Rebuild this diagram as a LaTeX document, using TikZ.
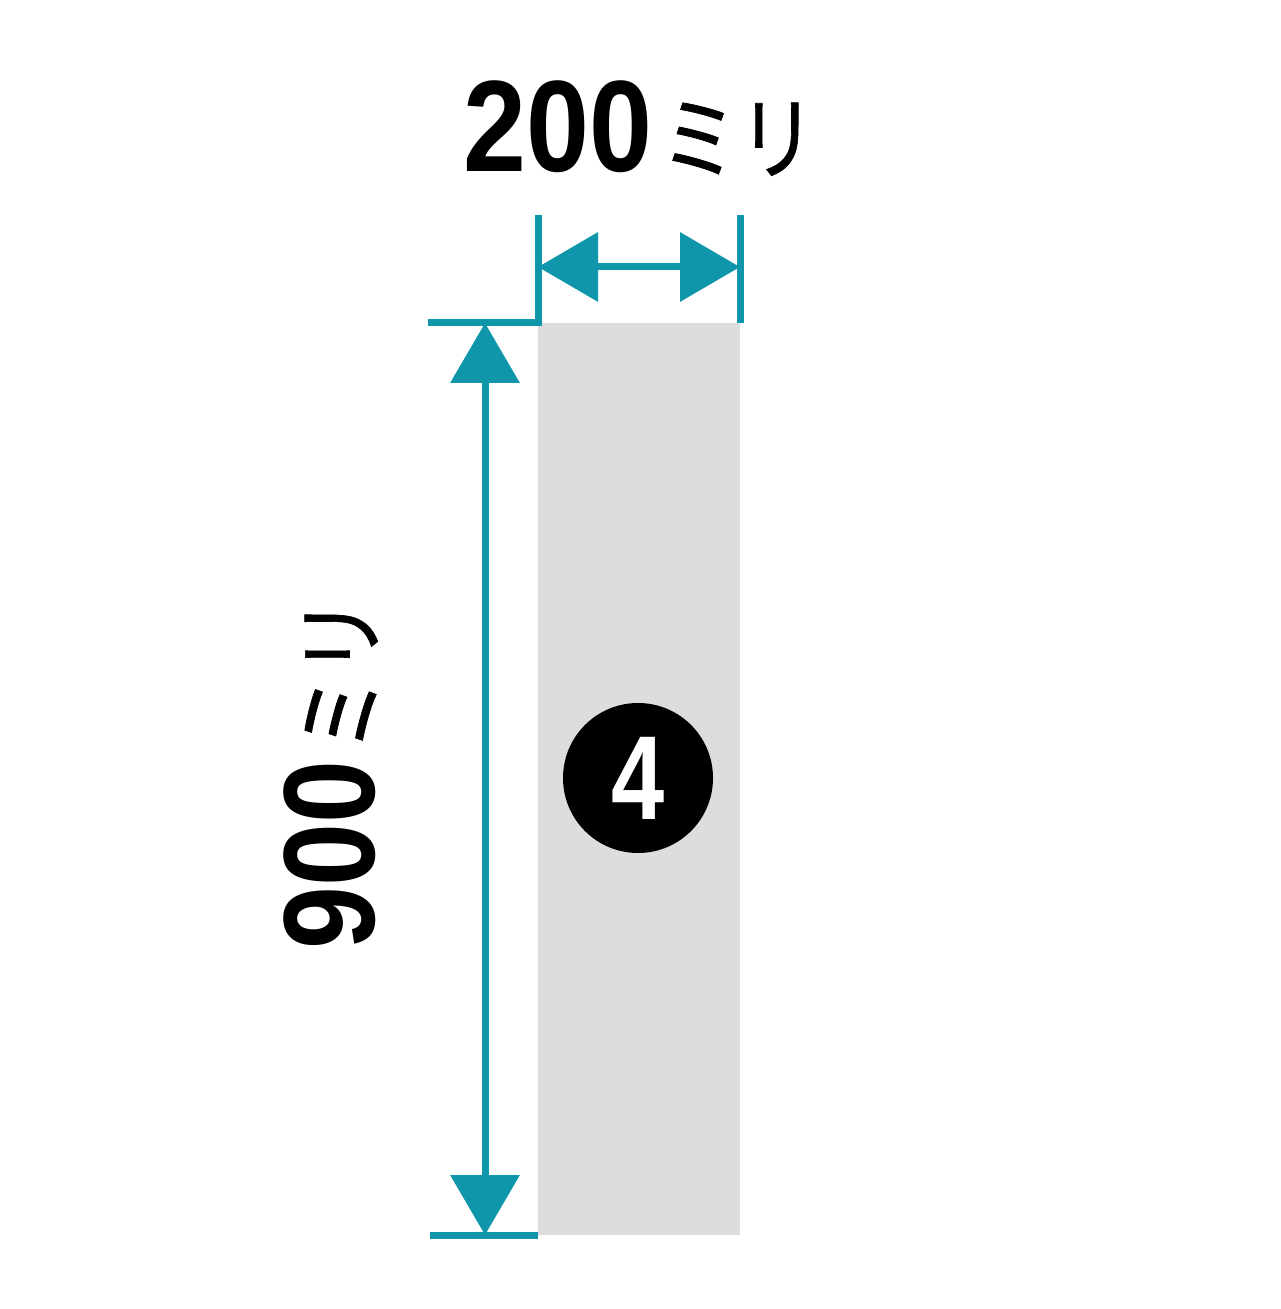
\documentclass[tikz,border=0pt]{standalone}
\usepackage{graphicx}
\usepackage{fontspec}
\setmainfont{Liberation Sans}
\newfontfamily\jpfont{Noto Sans CJK JP}[FakeBold=0.8]
\usetikzlibrary{arrows.meta, positioning}
\definecolor{dimteal}{RGB}{16,150,170}
\definecolor{panelgray}{RGB}{221,221,221}
\newcommand{\unitmm}{{\jpfont\mdseries\fontsize{26}{26}\selectfont\scalebox{0.85}[1]{ミリ}}}

\begin{document}
\begin{tikzpicture}[
    dimline/.style={draw=dimteal, line width=0.07cm},
    dimarrow/.style={dimline, {Triangle[length=0.6cm, width=0.68cm]}-{Triangle[length=0.6cm, width=0.68cm]}},
    sizelabel/.style={inner sep=0, font=\bfseries\fontsize{37}{37}\selectfont},
    numbadge/.style={circle, fill=black, minimum size=1.5cm, inner sep=0, text=white, font=\bfseries\fontsize{34}{34}\selectfont}
]
\useasboundingbox (0,0) rectangle (12.8,-13.09);

% Panel
\coordinate (tl) at (5.38,-3.23);
\coordinate (tr) at (7.40,-3.23);
\coordinate (bl) at (5.38,-12.35);
\coordinate (br) at (7.40,-12.35);
\fill[panelgray] (tl) rectangle (br);

% Width dimension
\coordinate (wl) at (5.38,-2.15);
\coordinate (wr) at (7.40,-2.15);
\coordinate (wa) at (5.38,-2.67);
\coordinate (wb) at (7.40,-2.67);
\draw[dimline] (wr) -- (tr);
\draw[dimarrow] (wa) -- (wb);
\node[sizelabel, anchor=base west] (wlabel) at (4.63,-1.72) {\scalebox{0.87}[1]{200}\hspace{0.08cm}\unitmm};

% Height dimension
\coordinate (ht) at (4.28,-3.23);
\coordinate (hb) at (4.30,-12.35);
\coordinate (ha) at (4.85,-3.23);
\coordinate (hz) at (4.85,-12.35);
\draw[dimline] (wl) -- (tl) -- (ht);
\draw[dimline] (hb) -- (bl);
\draw[dimarrow] (ha) -- (hz);
\node[sizelabel, rotate=90, anchor=base west] (hlabel) at (3.74,-9.50) {\scalebox{0.87}[1]{900}\hspace{0.08cm}\unitmm};

% Number badge
\node[numbadge] (badge) at (6.38,-7.78) {\scalebox{0.8}[1]{4}};

\end{tikzpicture}
\end{document}
